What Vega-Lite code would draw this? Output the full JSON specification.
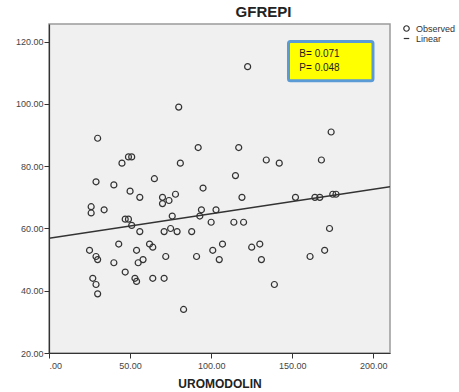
{
  "$schema": "https://vega.github.io/schema/vega-lite/v6.json",
  "autosize": "none",
  "width": 341,
  "height": 329,
  "padding": {"left": 49, "top": 24, "right": 69, "bottom": 39},
  "background": "white",
  "config": {
    "font": "Liberation Sans",
    "view": {"stroke": "#9a9a9a", "strokeWidth": 1.5, "fill": "#f0f0f0"},
    "axis": {"grid": false, "domainColor": "#333333", "domainWidth": 1.2, "tickColor": "#333333", "tickSize": 5, "labelFont": "Liberation Sans", "labelFontSize": 9, "labelColor": "#444444", "titleFont": "Liberation Sans", "titleFontWeight": "bold", "titleColor": "#222222"}
  },
  "title": {"text": "GFREPI", "font": "Liberation Sans", "fontSize": 15, "fontWeight": "bold", "color": "#222222", "anchor": "middle", "dx": 44, "offset": 4},
  "datasets": {
    "points": [
      {"uromodolin": 30, "gfrepi": 89}, {"uromodolin": 49, "gfrepi": 83}, {"uromodolin": 51, "gfrepi": 83},
      {"uromodolin": 45, "gfrepi": 81}, {"uromodolin": 92, "gfrepi": 86}, {"uromodolin": 81, "gfrepi": 81},
      {"uromodolin": 29, "gfrepi": 75}, {"uromodolin": 40, "gfrepi": 74}, {"uromodolin": 65, "gfrepi": 76},
      {"uromodolin": 50, "gfrepi": 72}, {"uromodolin": 56, "gfrepi": 70}, {"uromodolin": 95, "gfrepi": 73},
      {"uromodolin": 70, "gfrepi": 70}, {"uromodolin": 70, "gfrepi": 68}, {"uromodolin": 74, "gfrepi": 69},
      {"uromodolin": 78, "gfrepi": 71}, {"uromodolin": 26, "gfrepi": 67}, {"uromodolin": 26, "gfrepi": 65},
      {"uromodolin": 34, "gfrepi": 66}, {"uromodolin": 47, "gfrepi": 63}, {"uromodolin": 49, "gfrepi": 63},
      {"uromodolin": 51, "gfrepi": 61}, {"uromodolin": 56, "gfrepi": 59}, {"uromodolin": 76, "gfrepi": 64},
      {"uromodolin": 94, "gfrepi": 66}, {"uromodolin": 103, "gfrepi": 66}, {"uromodolin": 93, "gfrepi": 64},
      {"uromodolin": 100, "gfrepi": 62}, {"uromodolin": 71, "gfrepi": 59}, {"uromodolin": 75, "gfrepi": 60},
      {"uromodolin": 79, "gfrepi": 59}, {"uromodolin": 88, "gfrepi": 59}, {"uromodolin": 25, "gfrepi": 53},
      {"uromodolin": 43, "gfrepi": 55}, {"uromodolin": 54, "gfrepi": 53}, {"uromodolin": 62, "gfrepi": 55},
      {"uromodolin": 64, "gfrepi": 54}, {"uromodolin": 101, "gfrepi": 53}, {"uromodolin": 107, "gfrepi": 55},
      {"uromodolin": 29, "gfrepi": 51}, {"uromodolin": 30, "gfrepi": 50}, {"uromodolin": 40, "gfrepi": 49},
      {"uromodolin": 55, "gfrepi": 49}, {"uromodolin": 58, "gfrepi": 50}, {"uromodolin": 72, "gfrepi": 51},
      {"uromodolin": 91, "gfrepi": 51}, {"uromodolin": 105, "gfrepi": 50}, {"uromodolin": 47, "gfrepi": 46},
      {"uromodolin": 27, "gfrepi": 44}, {"uromodolin": 29, "gfrepi": 42}, {"uromodolin": 30, "gfrepi": 39},
      {"uromodolin": 53, "gfrepi": 44}, {"uromodolin": 54, "gfrepi": 43}, {"uromodolin": 64, "gfrepi": 44},
      {"uromodolin": 71, "gfrepi": 44}, {"uromodolin": 83, "gfrepi": 34}, {"uromodolin": 80, "gfrepi": 99},
      {"uromodolin": 122.5, "gfrepi": 112}, {"uromodolin": 174, "gfrepi": 91}, {"uromodolin": 117, "gfrepi": 86},
      {"uromodolin": 134, "gfrepi": 82}, {"uromodolin": 142, "gfrepi": 81}, {"uromodolin": 168, "gfrepi": 82},
      {"uromodolin": 115, "gfrepi": 77}, {"uromodolin": 119, "gfrepi": 70}, {"uromodolin": 152, "gfrepi": 70},
      {"uromodolin": 164, "gfrepi": 70}, {"uromodolin": 167, "gfrepi": 70}, {"uromodolin": 175, "gfrepi": 71},
      {"uromodolin": 177, "gfrepi": 71}, {"uromodolin": 114, "gfrepi": 62}, {"uromodolin": 120, "gfrepi": 62},
      {"uromodolin": 173, "gfrepi": 60}, {"uromodolin": 125, "gfrepi": 54}, {"uromodolin": 130, "gfrepi": 55},
      {"uromodolin": 131, "gfrepi": 50}, {"uromodolin": 161, "gfrepi": 51}, {"uromodolin": 170, "gfrepi": 53},
      {"uromodolin": 139, "gfrepi": 42}
    ],
    "fit": [
      {"uromodolin": 0, "gfrepi": 56.9},
      {"uromodolin": 210.3, "gfrepi": 73.4}
    ],
    "box": [
      {"x1": 147.7, "x2": 199.8, "y1": 120.1, "y2": 107.5}
    ],
    "notes": [
      {"uromodolin": 154.4, "gfrepi": 116, "label": "B= 0.071"},
      {"uromodolin": 154.4, "gfrepi": 111.7, "label": "P= 0.048"}
    ]
  },
  "layer": [
    {
      "data": {"name": "fit"},
      "mark": {"type": "line", "color": "#333333", "strokeWidth": 1.5, "clip": true},
      "encoding": {
        "x": {"field": "uromodolin", "type": "quantitative", "scale": {"domain": [0, 210.3], "nice": false, "zero": false},
              "axis": {"values": [0, 50, 100, 150, 200], "labelExpr": "datum.value == 0 ? '.00' : format(datum.value, '.2f')", "title": "UROMODOLIN", "titleFontSize": 12, "titlePadding": 8, "labelPadding": 3}},
        "y": {"field": "gfrepi", "type": "quantitative", "scale": {"domain": [20, 125.7], "nice": false, "zero": false},
              "axis": {"values": [20, 40, 60, 80, 100, 120], "format": ".2f", "title": null, "labelPadding": 1}}
      }
    },
    {
      "data": {"name": "points"},
      "mark": {"type": "point", "filled": false, "size": 36, "strokeWidth": 1.2, "color": "#333333", "opacity": 1},
      "encoding": {
        "x": {"field": "uromodolin", "type": "quantitative"},
        "y": {"field": "gfrepi", "type": "quantitative"},
        "shape": {"datum": "Observed", "type": "nominal",
          "scale": {"domain": ["Observed", "Linear"], "range": ["circle", "stroke"]},
          "legend": {"title": null, "orient": "none", "legendX": 353, "legendY": 0, "labelFontSize": 9, "labelColor": "#333333", "symbolSize": 30, "symbolStrokeColor": "#333333", "symbolStrokeWidth": 1.2, "symbolFillColor": "transparent", "rowPadding": 0, "labelOffset": 5, "symbolOffset": 0}
        }
      }
    },
    {
      "data": {"name": "box"},
      "mark": {"type": "rect", "fill": "#ffff00", "stroke": "#5b9bd5", "strokeWidth": 3, "cornerRadius": 2},
      "encoding": {
        "x": {"field": "x1", "type": "quantitative"},
        "x2": {"field": "x2"},
        "y": {"field": "y1", "type": "quantitative"},
        "y2": {"field": "y2"}
      }
    },
    {
      "data": {"name": "notes"},
      "mark": {"type": "text", "align": "left", "baseline": "middle", "fontSize": 10, "color": "#222222", "font": "Liberation Sans"},
      "encoding": {
        "x": {"field": "uromodolin", "type": "quantitative"},
        "y": {"field": "gfrepi", "type": "quantitative"},
        "text": {"field": "label"}
      }
    }
  ]
}
